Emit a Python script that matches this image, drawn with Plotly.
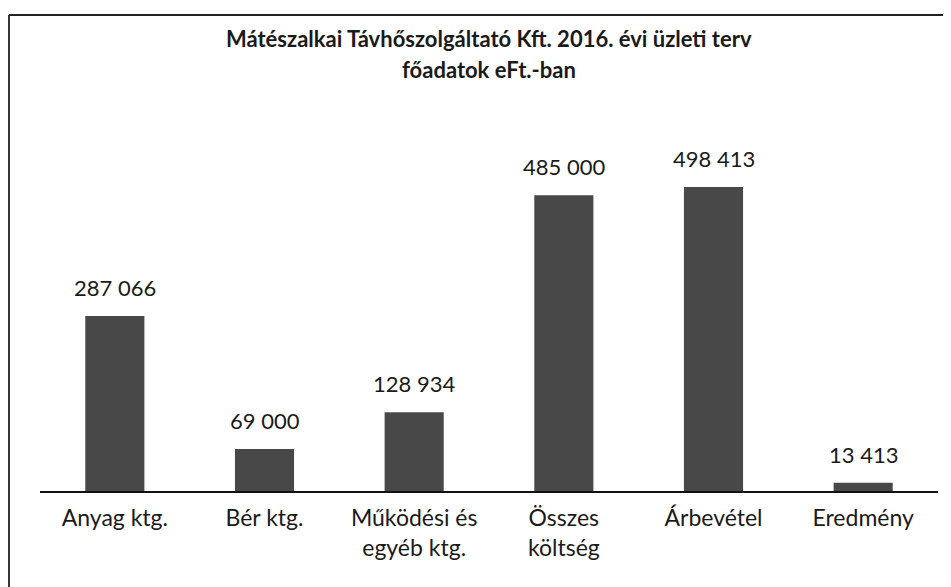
import plotly.graph_objects as go

categories = ["Anyag ktg.", "Bér ktg.", "Működési és<br>egyéb ktg.", "Összes<br>költség", "Árbevétel", "Eredmény"]
values = [287066, 69000, 128934, 485000, 498413, 13413]
value_labels = ["287 066", "69 000", "128 934", "485 000", "498 413", "13 413"]
title_line1 = "Mátészalkai Távhőszolgáltató Kft. 2016. évi üzleti terv"
title_line2 = "főadatok eFt.-ban"

OFF = 8  # page body margin
W, H = 951 - OFF, 587 - OFF
L, R, T, B = 40 - OFF, 13, 125 - OFF, 96
pw = W - L - R
ph = H - T - B

def px_x(x):
    return (x - OFF - L) / pw

def px_y(y):
    return (H - B - (y - OFF)) / ph

FONT = "Lato"
TXT = "#1a1a1a"

fig = go.Figure()
fig.add_trace(go.Bar(
    x=categories, y=values,
    marker=dict(color="#484848", line=dict(width=0)),
    hoverinfo="skip",
))

for c, v, lab in zip(categories, values, value_labels):
    fig.add_annotation(x=c, y=v, xref="x", yref="y", text=lab, showarrow=False,
                       yanchor="bottom", yshift=13,
                       font=dict(family=FONT, size=22, color=TXT))

fig.add_annotation(x=0.5, y=px_y(38), xref="paper", yref="paper", text="<b>" + title_line1 + "</b>",
                   showarrow=False, yanchor="middle", xanchor="center",
                   font=dict(family=FONT, size=22, color=TXT))
fig.add_annotation(x=0.5, y=px_y(70), xref="paper", yref="paper", text="<b>" + title_line2 + "</b>",
                   showarrow=False, yanchor="middle", xanchor="center",
                   font=dict(family=FONT, size=22, color=TXT))

# frame (left and top edges visible)
fig.add_shape(type="line", xref="paper", yref="paper", x0=px_x(9), x1=px_x(9), y0=px_y(15), y1=px_y(600),
              line=dict(color="#222222", width=1.8))
fig.add_shape(type="line", xref="paper", yref="paper", x0=px_x(9), x1=px_x(960), y0=px_y(15), y1=px_y(15),
              line=dict(color="#222222", width=1.8))

fig.update_layout(
    width=W, height=H,
    margin=dict(l=L, r=R, t=T, b=B),
    paper_bgcolor="white", plot_bgcolor="white",
    showlegend=False,
    bargap=0.605,
    font=dict(family=FONT, color=TXT),
)
fig.update_xaxes(showline=True, linecolor="#111111", linewidth=1.5, showgrid=False,
                 ticks="", ticklabelstandoff=6,
                 tickfont=dict(family=FONT, size=23, color=TXT))
fig.update_yaxes(range=[0, 600000], visible=False, showgrid=False, zeroline=False)

fig.write_html("out.html")
